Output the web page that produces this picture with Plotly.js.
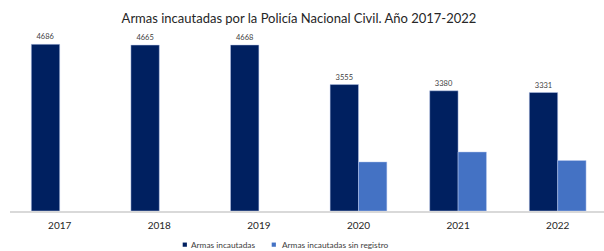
<!DOCTYPE html>
<html>
<head>
<meta charset="utf-8">
<script src="https://cdn.plot.ly/plotly-3.0.1.min.js"></script>
<style>html,body{margin:0;padding:0;background:#fff;}#chart{width:604px;height:251px;}</style>
</head>
<body>
<div id="chart"></div>
<script>
const years = ['2017', '2018', '2019', '2020', '2021', '2022'];
const armasIncautadas = [4686, 4665, 4668, 3555, 3380, 3331];
const armasSinRegistro = [null, null, null, 1380, 1660, 1420];
const seriesNames = ['Armas incautadas', 'Armas incautadas sin registro'];
const seriesColors = ['#002060', '#4472C4'];
const titleText = 'Armas incautadas por la Policía Nacional Civil. Año 2017-2022';

const font = 'Lato, "Open Sans", sans-serif';
const W = 604, H = 251;
const M = {l: 10, r: 0, t: 30, b: 40.3};
const plotW = W - M.l - M.r, plotH = H - M.t - M.b;
const px2x = p => (p - M.l) / plotW;
const px2y = p => (H - M.b - p) / plotH;

const traces = [
  {
    type: 'bar', x: years, y: armasIncautadas, name: seriesNames[0],
    marker: {color: seriesColors[0], line: {color: 'rgba(190,205,240,0.8)', width: 0.6}},
    text: armasIncautadas.map(String), textposition: 'outside', cliponaxis: false,
    textfont: {family: font, size: 7.5, color: '#404040'},
    hoverinfo: 'x+y'
  },
  {
    type: 'bar', x: years, y: armasSinRegistro, name: seriesNames[1],
    marker: {color: seriesColors[1], line: {color: 'rgba(190,205,240,0.8)', width: 0.6}},
    hoverinfo: 'x+y'
  }
];

// manual legend (small square markers + labels), Excel-style
const legendItems = [
  {sq: 182.7, txt: 188.5},
  {sq: 271.7, txt: 280.0}
];
const legendY = 244.3;
const shapes = legendItems.map((it, i) => ({
  type: 'rect', xref: 'paper', yref: 'paper',
  x0: px2x(it.sq), x1: px2x(it.sq + 4.2),
  y0: px2y(legendY + 2.1), y1: px2y(legendY - 2.1),
  fillcolor: seriesColors[i], line: {width: 0}
}));
const annotations = legendItems.map((it, i) => ({
  xref: 'paper', yref: 'paper', x: px2x(it.txt), y: px2y(legendY),
  xanchor: 'left', yanchor: 'middle', showarrow: false,
  text: seriesNames[i], font: {family: font, size: 8.3, color: '#404040'}
}));

const layout = {
  width: W, height: H,
  margin: M,
  paper_bgcolor: '#ffffff', plot_bgcolor: '#ffffff',
  title: {text: titleText, x: 0.495, xref: 'container', y: 0.928, yanchor: 'middle',
          font: {family: font, size: 13, color: '#262626'}},
  barmode: 'group', bargap: 0.43, bargroupgap: 0,
  xaxis: {type: 'category', range: [-0.499, 5.465], showline: true, linecolor: '#d9d9d9', linewidth: 1.6,
          ticks: '', ticklabelstandoff: 4, showgrid: false, automargin: false,
          tickfont: {family: font, size: 10, color: '#262626'}},
  yaxis: {range: [0, 5089], visible: false, showgrid: false, zeroline: false, automargin: false},
  showlegend: false,
  shapes: shapes,
  annotations: annotations
};

Plotly.newPlot('chart', traces, layout, {displayModeBar: false, staticPlot: true});
</script>
</body>
</html>
